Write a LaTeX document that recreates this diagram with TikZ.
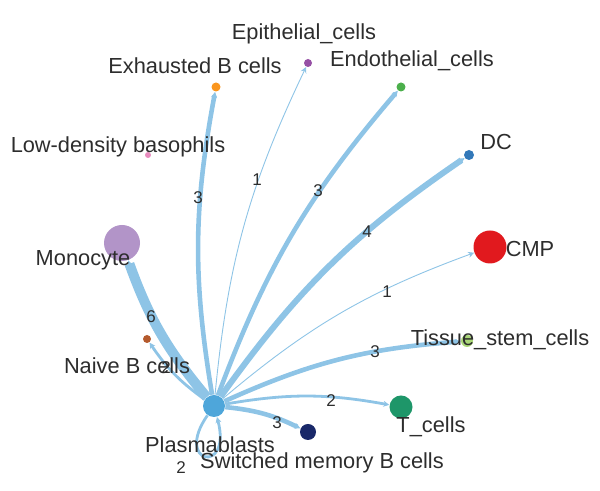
\documentclass[tikz,border=0pt]{standalone}
\usepackage{fontspec}
\setmainfont{Liberation Sans}
\usepackage{xcolor}
\usepackage{tikz}
\usetikzlibrary{arrows.meta}
\usetikzlibrary{backgrounds}
\definecolor{lien}{RGB}{142,196,230}
\definecolor{plasma}{RGB}{78,166,218}
\definecolor{mono}{RGB}{178,148,200}
\definecolor{naive}{RGB}{180,90,45}
\definecolor{lowd}{RGB}{232,140,190}
\definecolor{exh}{RGB}{250,150,30}
\definecolor{epi}{RGB}{150,80,165}
\definecolor{endo}{RGB}{75,175,75}
\definecolor{dc}{RGB}{50,120,185}
\definecolor{cmp}{RGB}{225,25,30}
\definecolor{tsc}{RGB}{170,215,120}
\definecolor{tcell}{RGB}{30,150,105}
\definecolor{smb}{RGB}{25,40,105}
\definecolor{texte}{RGB}{45,45,45}
\def\largeur{600}
\def\hauteur{491}

\begin{document}
\begin{tikzpicture}[x=0.5pt, y=0.5pt,
	cell/.style={circle, inner sep=0pt},
	nom/.style={text=texte, font=\fontsize{10.9}{13}\selectfont, inner sep=0pt},
	poids/.style={text=texte, font=\fontsize{8.5}{10}\selectfont, inner sep=0pt},
	fleche/.style={draw=lien, -{Stealth[length=3pt,width=3pt]}, bend left=10}]
	\useasboundingbox (0,0) rectangle (\largeur,\hauteur);
	%\draw[step=50, line width=0.1mm, black!20!white] (0,0) grid (\largeur,\hauteur);
	% cells
	\node[cell, fill=plasma, minimum size=11pt] (pb) at (214,85) {};
	\node[cell, fill=mono, minimum size=18pt] (mono) at (122,248) {};
	\node[cell, fill=naive, minimum size=4pt] (naive) at (147,152) {};
	\node[cell, fill=lowd, minimum size=3pt] (lowd) at (148,336) {};
	\node[cell, fill=exh, minimum size=4.5pt] (exh) at (216,404) {};
	\node[cell, fill=epi, minimum size=4pt] (epi) at (308,428) {};
	\node[cell, fill=endo, minimum size=4.5pt] (endo) at (401,404) {};
	\node[cell, fill=dc, minimum size=5pt] (dc) at (469,336) {};
	\node[cell, fill=cmp, minimum size=16.5pt] (cmp) at (490,244) {};
	\node[cell, fill=tsc, minimum size=6pt] (tsc) at (467,150) {};
	\node[cell, fill=tcell, minimum size=11.5pt] (tcell) at (401,84) {};
	\node[cell, fill=smb, minimum size=8pt] (smb) at (308,59) {};
	% names
	\node[nom] (t-pb) at (210,46) {Plasmablasts};
	\node[nom] (t-mono) at (83,231) {Monocyte};
	\node[nom] (t-naive) at (127,125) {Naive B cells};
	\node[nom] (t-lowd) at (118,344) {Low-density basophils};
	\node[nom] (t-exh) at (195,425) {Exhausted B cells};
	\node[nom] (t-epi) at (304,457) {Epithelial\_cells};
	\node[nom] (t-endo) at (412,430) {Endothelial\_cells};
	\node[nom] (t-dc) at (496,349) {DC};
	\node[nom] (t-cmp) at (530,242) {CMP};
	\node[nom] (t-tsc) at (500,151) {Tissue\_stem\_cells};
	\node[nom] (t-tcell) at (431,64) {T\_cells};
	\node[nom] (t-smb) at (322,28) {Switched memory B cells};
	% links
	\begin{scope}[on background layer]
		\draw[fleche, line width=5pt] (pb) to (mono);
		\draw[fleche, line width=1.4pt] (pb) to (naive);
		\draw[fleche, line width=2.3pt] (pb) to (exh);
		\draw[fleche, line width=0.45pt] (pb) to (epi);
		\draw[fleche, line width=2.3pt] (pb) to (endo);
		\draw[fleche, line width=3pt] (pb) to (dc);
		\draw[fleche, line width=0.45pt] (pb) to (cmp);
		\draw[fleche, line width=2.3pt] (pb) to (tsc);
		\draw[fleche, line width=1.4pt] (pb) to (tcell);
		\draw[fleche, line width=2.3pt] (pb) to (smb);
		\draw[draw=lien, line width=1.4pt, -{Stealth[length=3pt,width=3pt]}] (pb) to[out=235, in=285, min distance=30pt] (pb);
	\end{scope}
	% weights
	\node[poids] (w-mono) at (151,174) {6};
	\node[poids] (w-naive) at (166,123) {2};
	\node[poids] (w-exh) at (198,293) {3};
	\node[poids] (w-epi) at (257,311) {1};
	\node[poids] (w-endo) at (318,300) {3};
	\node[poids] (w-dc) at (367,259) {4};
	\node[poids] (w-cmp) at (387,199) {1};
	\node[poids] (w-tsc) at (375,139) {3};
	\node[poids] (w-tcell) at (331,90) {2};
	\node[poids] (w-smb) at (277,68) {3};
	\node[poids] (w-pb) at (181,23) {2};
\end{tikzpicture}
\end{document}
